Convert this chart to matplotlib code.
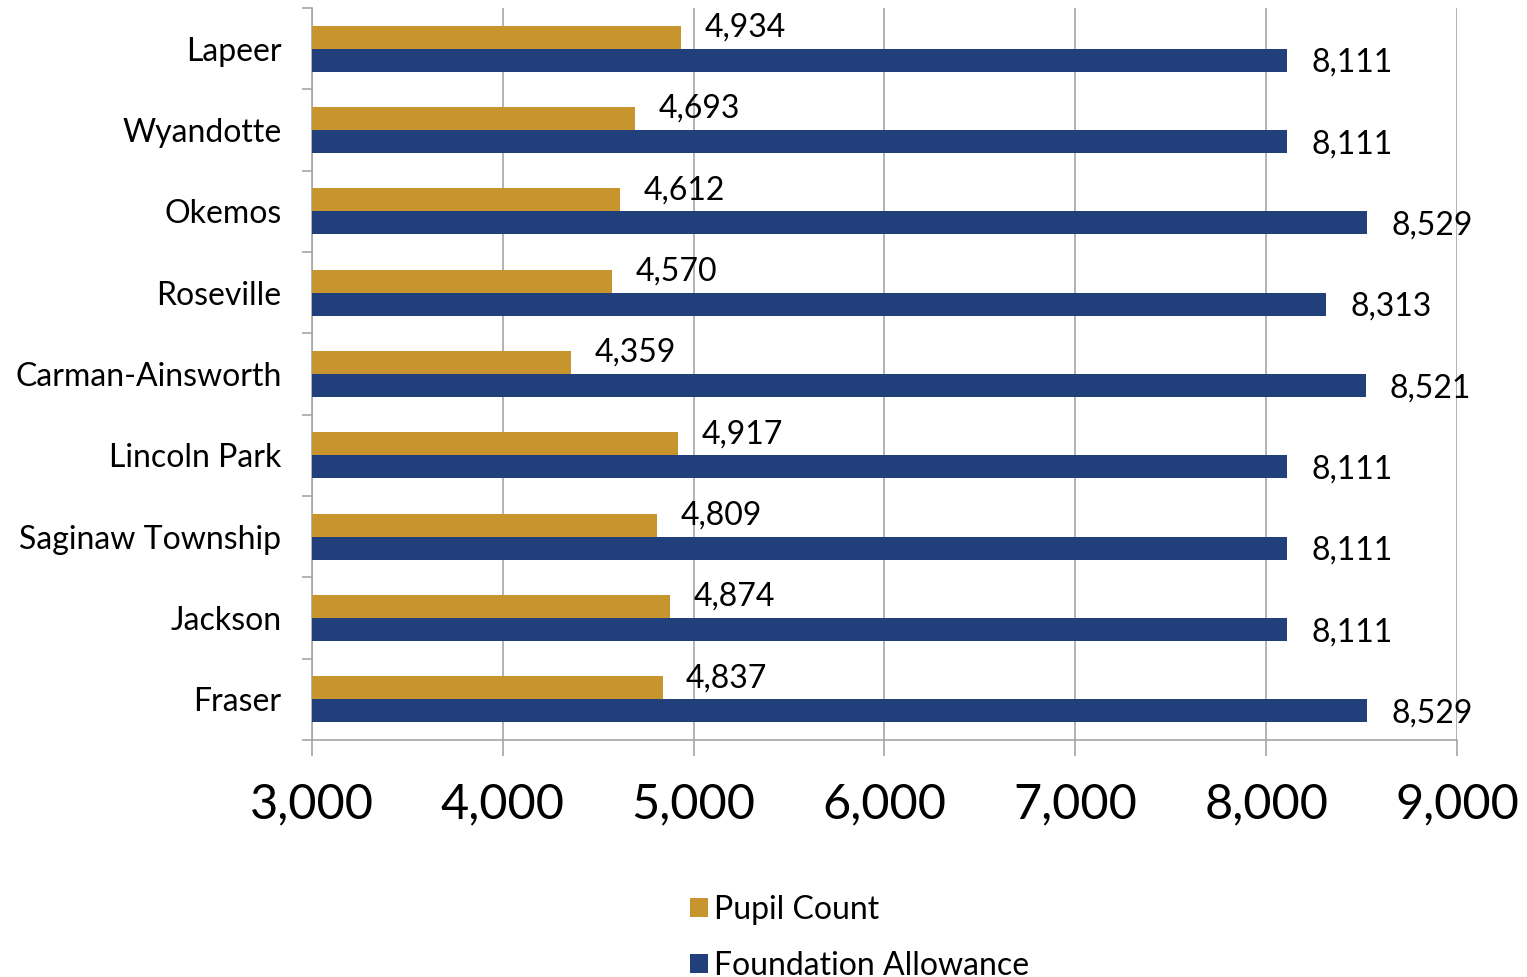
import matplotlib
matplotlib.use("Agg")
import matplotlib.pyplot as plt
import numpy as np
from matplotlib.patches import Patch
from matplotlib.ticker import FixedLocator

categories = ["Lapeer", "Wyandotte", "Okemos", "Roseville", "Carman-Ainsworth",
              "Lincoln Park", "Saginaw Township", "Jackson", "Fraser"]
pupil_count = [4934, 4693, 4612, 4570, 4359, 4917, 4809, 4874, 4837]
foundation_allowance = [8111, 8111, 8529, 8313, 8521, 8111, 8111, 8111, 8529]
x_ticks = [3000, 4000, 5000, 6000, 7000, 8000, 9000]
series_names = ["Pupil Count", "Foundation Allowance"]

GOLD = "#C8942E"
BLUE = "#203F7B"
GRID = "#A6A6A6"

plt.rcParams['font.family'] = ['Lato', 'DejaVu Sans']

fig = plt.figure(figsize=(15.27, 9.77), dpi=100)
ax = fig.add_axes([312/1527, 1-740/977, (1457-312)/1527, (740-8)/977])

y = np.arange(len(categories))
h = 0.283
ax.barh(y - h/2, pupil_count, height=h, color=GOLD, zorder=3)
ax.barh(y + h/2, foundation_allowance, height=h, color=BLUE, zorder=3)

for yi, v in zip(y, pupil_count):
    ax.annotate(f"{v:,}", xy=(v, yi - h/2), xytext=(17, 7), textcoords='offset points',
                va='center', ha='left', fontsize=23, color='black', zorder=4)
for yi, v in zip(y, foundation_allowance):
    ax.annotate(f"{v:,}", xy=(v, yi + h/2), xytext=(17.5, -2), textcoords='offset points',
                va='center', ha='left', fontsize=23, color='black', zorder=4)

ax.set_xlim(3000, 9000)
ax.set_ylim(len(categories) - 0.5, -0.5)
ax.set_xticks(x_ticks)
ax.set_xticklabels([f"{t:,}" for t in x_ticks], fontsize=35)
ax.set_yticks(y)
ax.set_yticklabels(categories, fontsize=23)
ax.yaxis.set_minor_locator(FixedLocator(np.arange(-0.5, len(categories), 1.0)))

ax.tick_params(axis='y', which='major', length=0, pad=22)
ax.tick_params(axis='y', which='minor', length=7, width=1.2, color=GRID, direction='out')
ax.tick_params(axis='x', which='major', length=11.5, width=1.2, color=GRID, pad=19)

ax.grid(axis='x', color=GRID, linewidth=1.2, zorder=0)
for s in ['top', 'right']:
    ax.spines[s].set_visible(False)
for s in ['left', 'bottom']:
    ax.spines[s].set_color(GRID)
    ax.spines[s].set_linewidth(1.2)

handles = [Patch(facecolor=GOLD), Patch(facecolor=BLUE)]
fig.legend(handles, series_names, loc='upper left', bbox_to_anchor=(690/1527, 1-895/977),
           frameon=False, fontsize=23, handlelength=0.55, handleheight=0.55,
           handletextpad=0.2, labelspacing=0.8, borderpad=0, borderaxespad=0)

fig.savefig("out.png", dpi=100)
